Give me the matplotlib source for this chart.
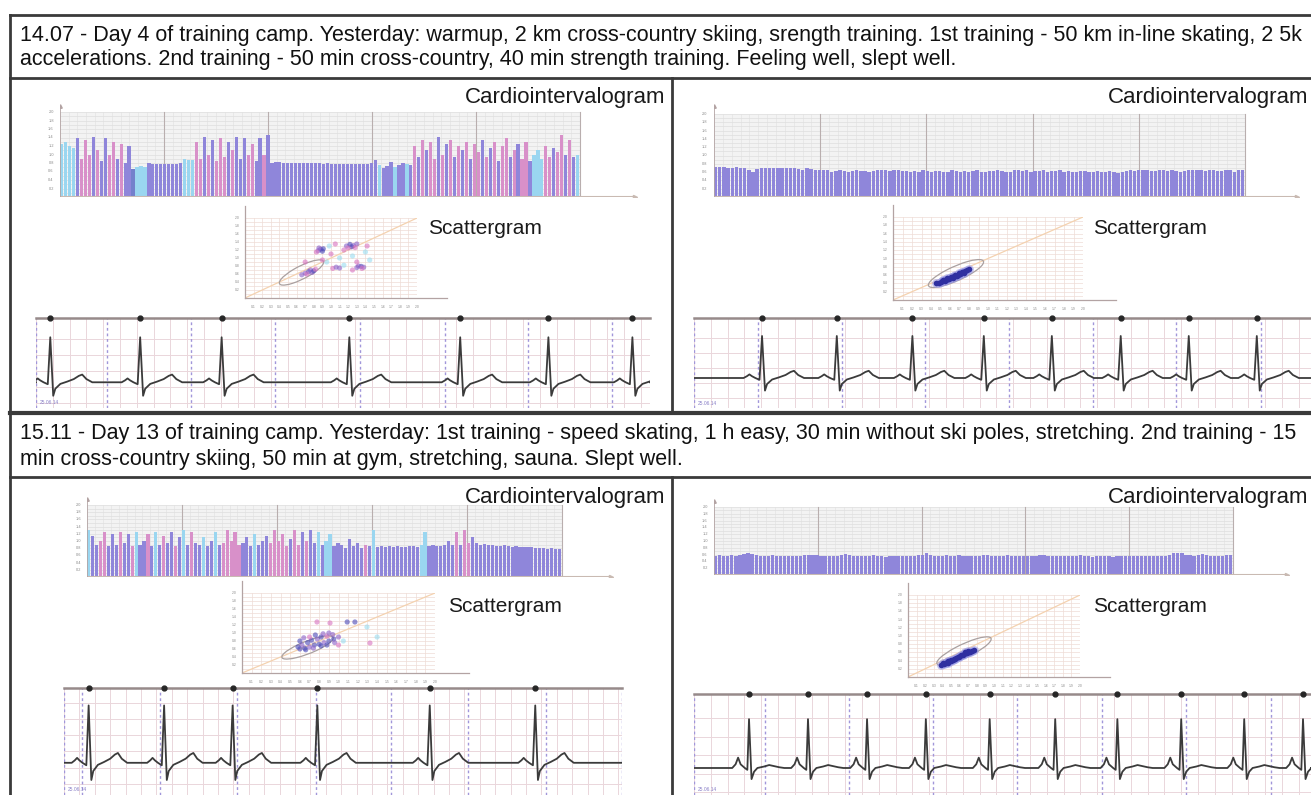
import numpy as np
import matplotlib
matplotlib.use('Agg')
from matplotlib import pyplot as plt
from matplotlib.patches import Ellipse, Rectangle

W, H = 1311, 795
plt.rcParams['font.family'] = ['Liberation Sans', 'DejaVu Sans']

HEADER_1 = ['14.07 - Day 4 of training camp. Yesterday: warmup, 2 km cross-country skiing, srength training. '
            '1st training - 50 km in-line skating, 2 5k',
            'accelerations. 2nd training - 50 min cross-country, 40 min strength training. Feeling well, slept well.']
HEADER_2 = ['15.11 - Day 13 of training camp. Yesterday: 1st training - speed skating, 1 h easy, '
            '30 min without ski poles, stretching. 2nd training - 15',
            'min cross-country skiing, 50 min at gym, stretching, sauna. Slept well.']

# RR intervals (ms) of the cardiointervalograms, colour code per bar
TL_RR = [1250, 1300, 1200, 1150,
         1400, 900, 1350, 1000, 1420, 1100, 850, 1380, 1000, 1300, 900, 1250, 800, 1200,
         660, 700, 720, 700,
         790, 780, 785, 780, 775, 780, 785, 780, 790,
         900, 880, 860,
         1300, 900, 1420, 1000, 1350, 850, 1380, 950, 1300, 1100, 1420, 900, 1380, 1000, 1250, 850, 1400, 1000,
         1450, 800,
         830, 820, 810, 805, 800, 800, 795, 800, 790, 795, 790, 790, 785, 790, 785, 780, 785, 780, 780, 785,
         780, 775, 780, 780, 790, 860,
         760, 680, 720, 820, 700, 760, 800, 780, 760,
         1200, 950, 1350, 1100, 1300, 900, 1420, 1000, 1250, 1350, 950, 1200, 1100, 1300, 900, 1250, 1050,
         1350, 950, 1150, 1300, 850, 1200, 1380, 950, 1100, 1250, 900, 1300, 850,
         1000, 1100, 900,
         1200, 950, 1150, 1050, 1450, 1000, 1350, 950,
         1000]
TL_COLORS = ('cccc' 'vpppvpvvppvpvv' 'bccc' 'vvvvvvvvv' 'ccc' 'ppvpvpppvpvvvppvvpvv' + 'v' * 26 +
             'cvvvcvvcv' 'pvpvppvpvpvpvpvppvpvpvppvpvppv' 'ccc' 'ppvppvpv' 'c')

TR_RR = [720, 730, 720, 700, 710, 720, 690, 700, 640, 600, 680, 700, 710, 700, 705, 710, 700, 690, 700, 710,
         680, 640, 700, 680, 650, 640, 660, 640, 610, 620, 640, 620, 600, 630, 640, 630, 620, 600, 620, 650,
         660, 640, 620, 640, 660, 620, 630, 600, 620, 610, 640, 620, 600, 630, 620, 610, 600, 640, 620, 610,
         630, 600, 620, 640, 610, 600, 620, 630, 640, 620, 600, 610, 640, 650, 620, 640, 610, 620, 630, 640,
         600, 620, 630, 640, 610, 620, 600, 610, 620, 630, 610, 600, 620, 600, 610, 620, 600, 590, 610, 620,
         640, 630, 650, 660, 640, 630, 620, 640, 650, 630, 640, 620, 600, 620, 640, 660, 650, 640, 620, 650,
         660, 630, 620, 650, 640, 600, 640, 660]

BL_RR = [1300, 1150, 900, 1000, 1250, 850, 1200, 900, 1250, 950,
         1200, 850, 1250, 900, 1000, 1200, 850, 1250, 900, 1150,
         950, 1250, 850, 1100, 1300, 900, 1250, 950, 900, 1100,
         850, 1000, 1250, 900, 950, 1300, 1000, 1250, 900, 950,
         1100, 850, 1200, 900, 1000, 1150, 950, 1300, 1000, 1200,
         850, 1050, 1300, 900, 1250, 1000, 1300, 950, 1250, 900,
         1000, 1200, 850, 950, 900, 800, 1050, 850, 950, 800,
         900, 850, 1300, 820, 860, 840, 850, 830, 850, 820,
         840, 860, 850, 830, 900, 1250, 850, 880, 870, 860,
         900, 1000, 880, 1250, 900, 1300, 950, 1100, 950, 900,
         920, 880, 900, 870, 860, 880, 850, 840, 860, 830,
         840, 820, 830, 810, 800, 810, 790, 800, 780, 790]
BL_COLORS = ('cvvppvvvpv' 'vpcvvpvcvp' 'vvpvcvpvvc' 'vvcvpppppv' 'vvcvvvpppp' 'pvppvpvvcv'
             'ccvvvvvvvv' 'pvcvvvvvvv' 'vvvvccvvvv' 'vvvpvppvvv' 'vvvvvvvvvv' 'vvvvvvvvvv')

BR_RR = [560, 580, 570, 560, 580, 570, 600, 620, 660, 620, 580, 570, 560, 570, 580, 560, 550, 560, 570, 560,
         550, 560, 580, 590, 600, 580, 570, 560, 550, 560, 570, 600, 620, 590, 570, 560, 550, 560, 570, 580,
         560, 550, 540, 560, 570, 560, 550, 560, 570, 560, 580, 600, 650, 600, 570, 560, 570, 580, 560, 570,
         580, 570, 560, 550, 560, 570, 580, 590, 570, 560, 560, 570, 580, 570, 560, 550, 560, 570, 560, 570,
         590, 580, 560, 550, 560, 570, 560, 550, 560, 570, 580, 560, 550, 540, 560, 570, 560, 550, 540, 560,
         570, 560, 560, 550, 560, 570, 560, 550, 560, 570, 560, 550, 600, 640, 660, 640, 600, 580, 570, 600,
         620, 590, 560, 550, 560, 560, 580, 600]

# scattergram points (RR n, RR n+1 in ms)
TL_SC_X = [850, 880, 900, 860, 910, 830, 1180, 1220, 1260, 1240, 1300, 1200, 1280, 1300, 1350, 1380, 1320,
           1360, 1020, 1060, 1100, 700, 740, 780, 720, 760, 800, 660, 820, 950, 1100, 1250, 1400, 980, 1150,
           1450, 900, 1000, 1300, 1420, 1150, 700, 1250, 1050]
TL_SC_Y = [1180, 1220, 1170, 1250, 1230, 1150, 1300, 1340, 1310, 1280, 1350, 1250, 1260, 760, 790, 770, 800,
           740, 740, 770, 750, 620, 660, 640, 600, 700, 680, 580, 720, 900, 1000, 1050, 1150, 1300, 820,
           950, 950, 1100, 900, 1300, 1200, 900, 700, 1350]
TL_SC_C = 'vvbvbpvbvbvppvbvvppvvvbvpvbvpccccccc' 'pppppppp'

TR_SC_X = [450, 480, 500, 520, 540, 560, 580, 600, 620, 640, 660, 680, 700, 720, 740, 760, 780, 800,
           530, 570, 610, 650, 690, 730, 590, 630, 670, 710, 550, 750]
TR_SC_Y = [400, 420, 440, 450, 470, 490, 510, 530, 550, 570, 590, 610, 630, 650, 680, 700, 720, 750,
           480, 520, 560, 600, 640, 670, 500, 540, 580, 620, 450, 660]

BL_SC_X = [600, 650, 700, 750, 800, 850, 900, 950, 1000, 620, 680, 720, 780, 820, 880, 940, 660, 740, 820,
           880, 960, 700, 760, 840, 600, 900, 1000, 1050, 580, 640, 1090, 1170, 1295, 1326, 912, 777, 1400]
BL_SC_Y = [600, 620, 650, 700, 720, 760, 800, 850, 900, 700, 760, 820, 850, 900, 920, 960, 580, 620, 680,
           700, 760, 900, 950, 980, 800, 1000, 700, 800, 650, 880, 1275, 1275, 1150, 750, 1250, 1275, 900]
BL_SC_C = 'bbvbbvbbvvbbvbpvbvbbvpbvbvpcbvbbcppp' 'c'

BR_SC_X = [380, 410, 440, 470, 500, 530, 560, 590, 620, 650, 680, 710, 740, 770, 420, 450, 480, 520, 550,
           600, 640, 690, 720, 580, 500, 460, 660, 700]
BR_SC_Y = [300, 330, 350, 380, 410, 440, 470, 500, 530, 560, 590, 610, 630, 650, 310, 360, 400, 420, 450,
           520, 540, 580, 620, 480, 380, 330, 600, 640]

# ECG: R-peak times (s), dashed one-second marks (s)
TL_R = [0.17, 1.24, 2.21, 3.73, 5.05, 6.10, 7.10]
TL_MARKS = [0.85, 1.85, 2.85, 3.86, 4.87, 5.86, 6.86]
TR_R = [0.81, 1.70, 2.60, 3.45, 4.26, 5.08, 5.89, 6.70]
TR_MARKS = [0.76, 1.76, 2.75, 3.75, 4.75, 5.74, 6.75]
BL_R = [0.32, 1.30, 2.19, 3.29, 4.75, 6.12]
BL_MARKS = [0.24, 1.25, 2.25, 3.27, 4.25, 5.25, 6.26, 7.25]
BR_R = [0.655, 1.357, 2.06, 2.76, 3.52, 4.30, 5.04, 5.80, 6.55, 7.25]
BR_MARKS = [0.845, 1.845, 2.845, 3.845, 4.857, 5.857, 6.869]

# one heartbeat, offset from R (s) and amplitude (mV)
BEAT_DT = [-0.22, -0.18, -0.15, -0.12, -0.08, -0.03, 0.0, 0.035, 0.06, 0.12, 0.2, 0.28, 0.34, 0.38, 0.43, 0.5]
BEAT_MV = [0, 0.06, 0.12, 0.06, 0, -0.06, 1.4, -0.42, -0.2, -0.05, 0.02, 0.1, 0.2, 0.24, 0.1, 0]
BEAT2_DT = [-0.2, -0.16, -0.13, -0.1, -0.05, -0.02, 0, 0.03, 0.06, 0.1, 0.18, 0.24, 0.3, 0.36, 0.42]
BEAT2_MV = [0, 0.1, 0.28, 0.1, 0, -0.05, 1.32, -0.3, -0.1, 0, 0.04, 0.08, 0.05, 0.02, 0]

BAR_COLORS = {'v': '#8f86da', 'p': '#d890c9', 'c': '#9ad6f0', 'b': '#7380cc'}
DOT_COLORS = {'v': '#8a60c8', 'p': '#d872c0', 'c': '#9adcf0', 'b': '#4a48b8'}
FRAME = '#3a3a3a'


def px_axes(fig, x0, y0, x1, y1):
    ax = fig.add_axes([x0 / W, 1 - y1 / H, (x1 - x0) / W, (y1 - y0) / H])
    ax.set_axis_off()
    return ax


def draw_cardio(fig, box, grid_right, grid_top, rr, colors):
    x0, y0, x1, y1 = box
    n = len(rr)
    px_bar = (grid_right - x0) / n
    ax = px_axes(fig, x0, y0, x1, y1)
    xmax = (x1 - x0) / px_bar
    ymax = 2000 * (y1 - y0) / (y1 - grid_top)
    ax.set_xlim(0, xmax)
    ax.set_ylim(0, ymax)
    ax.add_patch(Rectangle((0, 0), n, 2000, fc='#f3f3f3', ec='none', zorder=0))
    for y in range(100, 2001, 100):
        ax.plot([0, n], [y, y], color='#d9d9d9', lw=0.4, zorder=1)
    for x in np.linspace(0, n, 61):
        ax.plot([x, x], [0, 2000], color='#e0e0e0', lw=0.4, zorder=1)
    for x in np.linspace(0, n, 6)[1:]:
        ax.plot([x, x], [0, 2000], color='#b9aeae', lw=0.8, zorder=1)
    ax.bar(np.arange(n), rr, width=0.8, align='edge', lw=0, zorder=2,
           color=[BAR_COLORS[c] for c in colors])
    ax.plot([0, xmax * 0.99], [0, 0], color='#c9bab2', lw=1.5, zorder=3)
    ax.plot([xmax * 0.99], [0], marker='>', ms=3, color='#c9bab2', zorder=3)
    ax.plot([0, 0], [0, ymax * 0.98], color='#b3a3a3', lw=1.2, zorder=3)
    ax.plot([0], [ymax * 0.98], marker='^', ms=2.5, color='#b3a3a3', zorder=3)
    for v in range(200, 2001, 200):
        ax.text(-n * 0.012, v, f'{v / 1000:.1f}', fontsize=2.8, ha='right', va='center',
                color='#888888', clip_on=False)


def draw_scatter(fig, grid, xs, ys, cols, ell, blob=False):
    ax = px_axes(fig, *grid)
    ax.set_xlim(0, 2000)
    ax.set_ylim(0, 2000)
    for v in range(0, 2001, 100):
        ax.plot([v, v], [0, 2000], color='#eedcd6', lw=0.5, zorder=0)
        ax.plot([0, 2000], [v, v], color='#eedcd6', lw=0.5, zorder=0)
    ax.plot([0, 2000], [0, 2000], color='#f4d2b0', lw=0.9, zorder=1)
    ax.add_patch(Ellipse(ell[:2], ell[2], ell[3], angle=ell[4], fill=False, ec='#a9a0a0', lw=0.9, zorder=2))
    if blob:
        ax.scatter(xs, ys, s=40, color='#9a9ae4', alpha=0.6, lw=0, zorder=3)
        ax.scatter(xs, ys, s=16, color='#2f2fa0', lw=0, zorder=4)
    else:
        ax.scatter(xs, ys, s=14, color=[DOT_COLORS[c] for c in cols], alpha=0.6, lw=0, zorder=3)
    ax.plot([0, 0], [0, 2300], color='#b3a3a3', lw=0.9, clip_on=False)
    ax.plot([0, 2350], [0, 0], color='#b3a3a3', lw=0.9, clip_on=False)
    for v in range(100, 2001, 100):
        ax.text(v, -180, f'{v / 1000:.1f}', fontsize=2.4, ha='center', va='top', color='#888888', clip_on=False)
    for v in range(200, 2001, 200):
        ax.text(-60, v, f'{v / 1000:.1f}', fontsize=2.4, ha='right', va='center', color='#888888', clip_on=False)


def draw_ecg(fig, box, px_per_s, r_times, marks, ylim, beat_dt, beat_mv):
    ax = px_axes(fig, *box)
    t_end = (box[2] - box[0]) / px_per_s
    ax.set_xlim(0, t_end)
    ax.set_ylim(*ylim)
    for t in np.arange(0, t_end, 0.2):
        ax.axvline(t, color='#ead6db', lw=0.7, zorder=0)
    for v in np.arange(0, ylim[1], 0.5):
        ax.axhline(v - 0.15, color='#ead6db', lw=0.7, zorder=0)
    for v in np.arange(-0.5, ylim[0], -0.5):
        ax.axhline(v - 0.15, color='#ead6db', lw=0.7, zorder=0)
    for t in [0] + marks:
        ax.axvline(t, color='#a196da', lw=1.0, ls=(0, (2, 2)), zorder=1)
    t_all, v_all = [0.0], [0.0]
    for r in r_times:
        t_all.extend(r + np.array(beat_dt))
        v_all.extend(beat_mv)
    t_all.append(t_end)
    v_all.append(0.0)
    ax.plot(t_all, v_all, color='#3b3b3b', lw=1.3, zorder=3)
    ax.axhline(ylim[1], color='#978a8a', lw=1.8, zorder=4, clip_on=False)
    ax.plot(r_times, [ylim[1]] * len(r_times), 'o', color='#262626', ms=3.5, zorder=5, clip_on=False)
    ax.text(0.05, ylim[0] + 0.08, '25.06.14', fontsize=3.5, color='#8a80c8', va='bottom')


def main():
    fig = plt.figure(figsize=(W / 100, H / 100), dpi=100)
    ov = fig.add_axes([0, 0, 1, 1])
    ov.set_xlim(0, W)
    ov.set_ylim(H, 0)
    ov.set_axis_off()

    ov.plot([10, W], [15, 15], color=FRAME, lw=2)
    ov.plot([10, 10], [15, H], color=FRAME, lw=2)
    ov.plot([10, W], [78, 78], color=FRAME, lw=2)
    ov.plot([10, W], [413, 413], color=FRAME, lw=3)
    ov.plot([10, W], [477, 477], color=FRAME, lw=2)
    ov.plot([672, 672], [78, 413], color=FRAME, lw=2)
    ov.plot([672, 672], [477, H], color=FRAME, lw=2)

    for i, line in enumerate(HEADER_1):
        ov.text(20, 35 + 25 * i, line, fontsize=15.5, va='center', ha='left', color='#111111')
    for i, line in enumerate(HEADER_2):
        ov.text(20, 433 + 26 * i, line, fontsize=15.5, va='center', ha='left', color='#111111')

    for y in (97, 497):
        ov.text(665, y, 'Cardiointervalogram', fontsize=16, ha='right', va='center', color='#1a1a1a')
        ov.text(1308, y, 'Cardiointervalogram', fontsize=16, ha='right', va='center', color='#1a1a1a')
    ov.text(428, 228, 'Scattergram', fontsize=15, va='center', color='#1a1a1a')
    ov.text(1093, 228, 'Scattergram', fontsize=15, va='center', color='#1a1a1a')
    ov.text(448, 607, 'Scattergram', fontsize=15, va='center', color='#1a1a1a')
    ov.text(1093, 607, 'Scattergram', fontsize=15, va='center', color='#1a1a1a')

    draw_cardio(fig, (60, 104, 641, 197), 580, 112, TL_RR, TL_COLORS)
    draw_cardio(fig, (714, 104, 1303, 197), 1245, 114, TR_RR, 'v' * len(TR_RR))
    draw_cardio(fig, (87, 497, 616, 577), 562, 505, BL_RR, BL_COLORS)
    draw_cardio(fig, (714, 499, 1293, 575), 1233, 507, BR_RR, 'v' * len(BR_RR))

    draw_scatter(fig, (245, 218, 417, 298), TL_SC_X, TL_SC_Y, TL_SC_C, (657, 638, 780, 240, 52))
    draw_scatter(fig, (893, 217, 1083, 300), TR_SC_X, TR_SC_Y, None, (663, 638, 850, 260, 50), blob=True)
    draw_scatter(fig, (242, 593, 435, 673), BL_SC_X, BL_SC_Y, BL_SC_C, (679, 638, 750, 240, 48))
    draw_scatter(fig, (908, 595, 1080, 677), BR_SC_X, BR_SC_Y, None, (651, 634, 900, 260, 48), blob=True)

    draw_ecg(fig, (36, 318, 650, 408), 84, TL_R, TL_MARKS, (-0.8, 2.0), BEAT_DT, BEAT_MV)
    draw_ecg(fig, (694, 318, 1311, 408), 84, TR_R, TR_MARKS, (-1.0, 2.0), BEAT_DT, BEAT_MV)
    draw_ecg(fig, (64, 688, 622, 795), 77, BL_R, BL_MARKS, (-0.99, 2.3),
             BEAT_DT, [v * 1.26 for v in BEAT_MV])
    draw_ecg(fig, (694, 694, 1311, 795), 84, BR_R, BR_MARKS, (-0.73, 2.0), BEAT2_DT, BEAT2_MV)

    fig.savefig('out.png', dpi=100)


if __name__ == '__main__':
    main()
